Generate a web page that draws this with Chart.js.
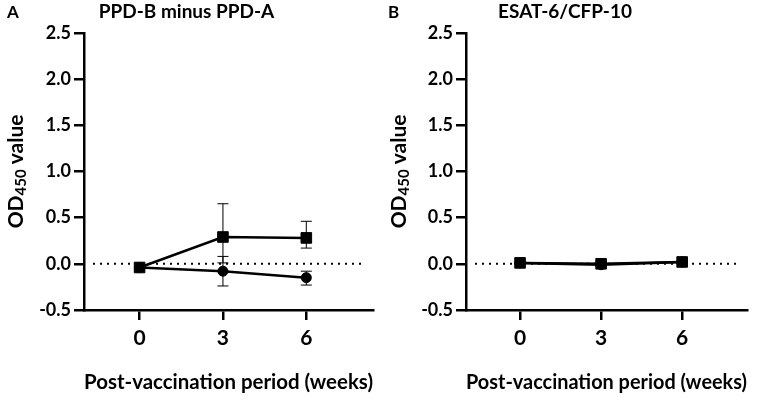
<!DOCTYPE html>
<html>
<head>
<meta charset="utf-8">
<script src="https://cdn.jsdelivr.net/npm/chart.js@4.4.1/dist/chart.umd.min.js"></script>
<style>
  body { margin: 0; background: #fff; }
  #wrap { position: relative; width: 765px; height: 397px; }
  canvas { position: absolute; top: 0; }
  .lbl { position: absolute; top: 1px; font: bold 17px Lato, sans-serif; }
</style>
</head>
<body>
<div id="wrap">
  <canvas id="chartA" width="383" height="397" style="left:0"></canvas>
  <canvas id="chartB" width="382" height="397" style="left:383px"></canvas>
  <div class="lbl" style="left:7px">A</div>
  <div class="lbl" style="left:388px">B</div>
</div>
<script>
// data
let weeks = [0, 3, 6]
let xTicks = [0, 3, 6]

// panel A: PPD-B minus PPD-A
let aSquare = [-0.04, 0.29, 0.28]
let aSquareLo = [-0.04, 0.01, 0.17]
let aSquareHi = [-0.04, 0.65, 0.46]
let aCircle = [-0.04, -0.08, -0.15]
let aCircleLo = [-0.04, -0.24, -0.23]
let aCircleHi = [-0.04, 0.08, -0.08]

// panel B: ESAT-6/CFP-10
let bSquare = [0.01, 0.0, 0.02]
let bSquareLo = [0.0, -0.01, 0.01]
let bSquareHi = [0.02, 0.01, 0.03]
let bCircle = [0.01, -0.01, 0.02]
let bCircleLo = [0.0, -0.02, 0.01]
let bCircleHi = [0.02, 0.0, 0.03]

const FONT = 'Lato, sans-serif'

function pts(ys) {
  return weeks.map((w, i) => ({x: w, y: ys[i]}))
}

// error bars + dotted zero line + y title with subscript
const extras = {
  id: 'extras',
  beforeDatasetsDraw(chart) {
    const ctx = chart.ctx
    const xs = chart.scales.x, ys = chart.scales.y
    const y0 = ys.getPixelForValue(0)
    ctx.save()
    ctx.strokeStyle = '#000'
    ctx.lineWidth = 2
    ctx.setLineDash([2, 5])
    ctx.beginPath()
    ctx.moveTo(chart.chartArea.left + 9, y0)
    ctx.lineTo(chart.chartArea.right - 10, y0)
    ctx.stroke()
    ctx.setLineDash([])
    ctx.lineWidth = 1
    chart.options.plugins.extras.bars.forEach(b => {
      weeks.forEach((w, i) => {
        const x = xs.getPixelForValue(w)
        const lo = ys.getPixelForValue(b.lo[i]), hi = ys.getPixelForValue(b.hi[i])
        ctx.beginPath()
        ctx.moveTo(x, lo); ctx.lineTo(x, hi)
        ctx.moveTo(x - 5.5, lo); ctx.lineTo(x + 5.5, lo)
        ctx.moveTo(x - 5.5, hi); ctx.lineTo(x + 5.5, hi)
        ctx.stroke()
      })
    })
    ctx.restore()
  },
  afterDraw(chart) {
    const ctx = chart.ctx
    const ca = chart.chartArea
    ctx.save()
    ctx.translate(16, (ca.top + ca.bottom) / 2)
    ctx.rotate(-Math.PI / 2)
    ctx.fillStyle = '#000'
    ctx.textBaseline = 'middle'
    ctx.textAlign = 'left'
    const big = 'bold 21px ' + FONT, small = 'bold 15px ' + FONT
    ctx.font = big
    const w1 = ctx.measureText('OD').width
    const w3 = ctx.measureText(' value').width
    ctx.font = small
    const w2 = ctx.measureText('450').width
    let x = -(w1 + w2 + w3) / 2
    ctx.font = big
    ctx.fillText('OD', x, 0)
    ctx.font = small
    ctx.fillText('450', x + w1, 5)
    ctx.font = big
    ctx.fillText(' value', x + w1 + w2, 0)
    ctx.restore()
  }
}

function makeChart(id, title, sq, sqLo, sqHi, ci, ciLo, ciHi, yWidth, padRight) {
  return new Chart(document.getElementById(id), {
    type: 'line',
    data: {
      datasets: [{
        label: 'square',
        data: pts(sq),
        order: 0,
        borderColor: '#000',
        backgroundColor: '#000',
        borderWidth: 2.5,
        pointStyle: 'rect',
        pointRadius: 7.5,
        pointBorderWidth: 1
      }, {
        label: 'circle',
        data: pts(ci),
        order: 1,
        borderColor: '#000',
        backgroundColor: '#000',
        borderWidth: 2.5,
        pointStyle: 'circle',
        pointRadius: 5,
        pointBorderWidth: 1
      }]
    },
    options: {
      responsive: false,
      animation: false,
      layout: { padding: { left: 0, right: padRight, top: 0, bottom: 0 } },
      plugins: {
        legend: { display: false },
        tooltip: { enabled: false },
        title: {
          display: true,
          text: title,
          color: '#000',
          font: { family: FONT, size: 19, weight: 'bold' },
          padding: { top: 0, bottom: 10 }
        },
        extras: { bars: [{lo: sqLo, hi: sqHi}, {lo: ciLo, hi: ciHi}] }
      },
      scales: {
        x: {
          type: 'linear',
          min: -2,
          max: 8.4,
          afterBuildTicks: s => { s.ticks = xTicks.map(v => ({value: v})) },
          afterFit: s => { s.height = 87 },
          border: { display: true, color: '#000', width: 2.5 },
          grid: { drawOnChartArea: false, drawTicks: true, tickLength: 10, color: '#000', lineWidth: 2.5 },
          ticks: { color: '#000', padding: 6, font: { family: FONT, size: 21, weight: 'bold' } },
          title: {
            display: true,
            text: 'Post-vaccination period (weeks)',
            color: '#000',
            font: { family: FONT, size: 21, weight: 'bold' },
            padding: { top: 0, bottom: 2 }
          }
        },
        y: {
          min: -0.5,
          max: 2.5,
          afterFit: s => { s.width = yWidth },
          border: { display: true, color: '#000', width: 2.5 },
          grid: { drawOnChartArea: false, drawTicks: true, tickLength: 10, color: '#000', lineWidth: 2.5 },
          ticks: {
            stepSize: 0.5,
            color: '#000',
            padding: 3,
            font: { family: FONT, size: 18, weight: 'bold' },
            callback: v => v.toFixed(1)
          }
        }
      }
    },
    plugins: [extras]
  })
}

makeChart('chartA', 'PPD-B minus PPD-A', aSquare, aSquareLo, aSquareHi, aCircle, aCircleLo, aCircleHi, 84, 10)
makeChart('chartB', 'ESAT-6/CFP-10', bSquare, bSquareLo, bSquareHi, bCircle, bCircleLo, bCircleHi, 83, 18)
</script>
</body>
</html>
